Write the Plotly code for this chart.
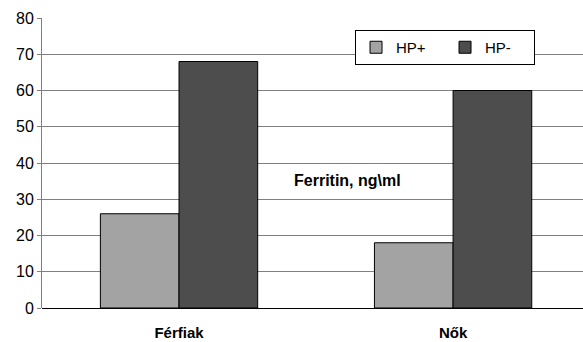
import plotly.graph_objects as go

categories = ["Férfiak", "Nők"]
hp_pos = [26, 18]
hp_neg = [68, 60]
y_ticks = [0, 10, 20, 30, 40, 50, 60, 70, 80]

fig = go.Figure()
fig.add_trace(go.Bar(name="HP+", x=categories, y=hp_pos,
                     marker=dict(color="#A3A3A3", line=dict(color="#000000", width=1))))
fig.add_trace(go.Bar(name="HP-", x=categories, y=hp_neg,
                     marker=dict(color="#4D4D4D", line=dict(color="#000000", width=1))))

fig.add_annotation(text="<b>Ferritin, ng\\ml</b>", x=0.613, y=35.3, xref="x", yref="y",
                   showarrow=False, font=dict(family="Arial, Liberation Sans", size=16, color="#000"))

fig.update_layout(
    width=583, height=342,
    margin=dict(l=42, r=0, t=18, b=34),
    paper_bgcolor="white", plot_bgcolor="white",
    barmode="group", bargap=0.426, bargroupgap=0,
    font=dict(family="Arial, Liberation Sans", color="#000"),
    legend=dict(orientation="h", x=0.5786, y=0.9586, xanchor="left", yanchor="top",
                bordercolor="#000000", borderwidth=1, bgcolor="white",
                font=dict(size=15), entrywidth=44, entrywidthmode="pixels",
                itemwidth=30, traceorder="normal"),
    xaxis=dict(range=[-0.5, 1.474], showgrid=False, showline=False, ticks="",
               ticklabelstandoff=14,
               tickfont=dict(size=15, family="Arial, Liberation Sans", weight="bold")),
    yaxis=dict(range=[0, 80], tickvals=y_ticks, showgrid=True, gridcolor="#808080", gridwidth=1,
               showline=True, linecolor="#808080", linewidth=1, ticks="outside", ticklen=4,
               tickcolor="#808080", tickfont=dict(size=16), zeroline=True,
               zerolinecolor="#000000", zerolinewidth=1),
)

fig.write_html("out.html")
